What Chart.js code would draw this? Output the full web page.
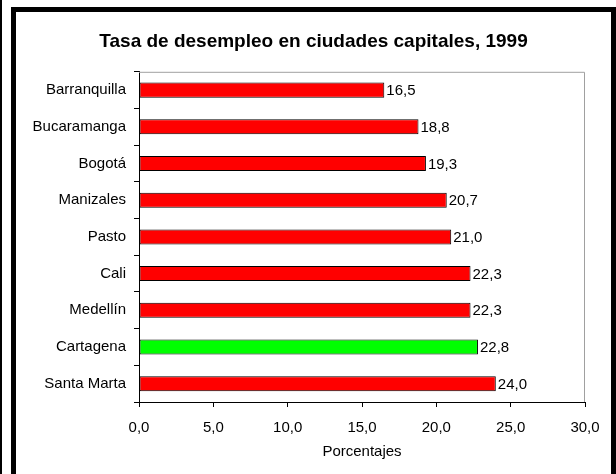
<!DOCTYPE html>
<html>
<head>
<meta charset="utf-8">
<script src="https://cdn.jsdelivr.net/npm/chart.js@4"></script>
<style>
  html, body { margin: 0; padding: 0; background: #fff; }
  #wrap { width: 616px; height: 474px; position: relative; }
</style>
</head>
<body>
<div id="wrap"><canvas id="chart" width="616" height="474"></canvas></div>
<script>
const cities = ['Barranquilla', 'Bucaramanga', 'Bogotá', 'Manizales', 'Pasto', 'Cali', 'Medellín', 'Cartagena', 'Santa Marta'];
const rates = [16.5, 18.8, 19.3, 20.7, 21.0, 22.3, 22.3, 22.8, 24.0];
const highlight = 'Cartagena';

const fmt = v => v.toFixed(1).replace('.', ',');

// marco negro y borde gris del area de trazado
const framePlugin = {
    id: 'frame',
    afterLayout(chart) {
        // centrar el titulo dentro del marco, no sobre el area menos el padding
        if (chart.titleBlock) {
            chart.titleBlock.left = 16;
            chart.titleBlock.right = 611;
        }
    },
    beforeDraw(chart) {
        const c = chart.ctx;
        c.save();
        c.fillStyle = '#fff';
        c.fillRect(0, 0, chart.width, chart.height);
        c.fillStyle = '#000';
        c.fillRect(0, 0, 2, chart.height);
        c.fillRect(11, 7, 605, 5);
        c.fillRect(11, 7, 5, chart.height - 7);
        c.fillRect(611, 7, 5, chart.height - 7);
        c.restore();
    },
    beforeDatasetsDraw(chart) {
        const a = chart.chartArea;
        const c = chart.ctx;
        c.save();
        c.strokeStyle = '#a0a0a0';
        c.lineWidth = 1;
        c.beginPath();
        c.moveTo(a.left, a.top + 0.5);
        c.lineTo(a.right - 0.5, a.top + 0.5);
        c.lineTo(a.right - 0.5, a.bottom);
        c.stroke();
        c.restore();
    }
};

// etiquetas de valor al final de cada barra
const valueLabels = {
    id: 'valueLabels',
    afterDatasetsDraw(chart) {
        const c = chart.ctx;
        const meta = chart.getDatasetMeta(0);
        c.save();
        c.font = '15px "Liberation Sans", Arial, sans-serif';
        c.fillStyle = '#000';
        c.textAlign = 'left';
        c.textBaseline = 'middle';
        meta.data.forEach((bar, i) => {
            c.fillText(fmt(rates[i]), bar.x + 2, bar.y + 1);
        });
        c.restore();
    }
};

Chart.defaults.font.family = '"Liberation Sans", Arial, sans-serif';
Chart.defaults.color = '#000';

new Chart(document.getElementById('chart').getContext('2d'), {
    type: 'bar',
    data: {
        labels: cities,
        datasets: [{
            data: rates,
            backgroundColor: cities.map(name => name === highlight ? '#00ff00' : '#ff0000'),
            borderColor: '#000',
            borderWidth: 1,
            borderSkipped: false,
            categoryPercentage: 1,
            barPercentage: 0.41
        }]
    },
    options: {
        indexAxis: 'y',
        responsive: false,
        animation: false,
        layout: { padding: { left: 0, right: 31, top: 0, bottom: 0 } },
        plugins: {
            legend: { display: false },
            tooltip: { enabled: false },
            title: {
                display: true,
                text: 'Tasa de desempleo en ciudades capitales, 1999',
                font: { size: 19, weight: 'bold' },
                color: '#000',
                padding: { top: 30, bottom: 19 }
            }
        },
        scales: {
            x: {
                min: 0,
                max: 30,
                ticks: {
                    stepSize: 5,
                    padding: 12,
                    font: { size: 15 },
                    callback: v => fmt(v)
                },
                grid: { drawOnChartArea: false, tickLength: 5, color: '#000' },
                border: { color: '#000', width: 1 },
                title: {
                    display: true,
                    text: 'Porcentajes',
                    font: { size: 15 },
                    padding: { top: 0, bottom: 13 }
                },
                afterFit(scale) { scale.height = 72; }
            },
            y: {
                ticks: { padding: 8, font: { size: 15 } },
                grid: { drawOnChartArea: false, tickLength: 5, color: '#000', offset: true },
                border: { color: '#000', width: 1 },
                afterFit(scale) { scale.width = 139; }
            }
        }
    },
    plugins: [framePlugin, valueLabels]
});
</script>
</body>
</html>
